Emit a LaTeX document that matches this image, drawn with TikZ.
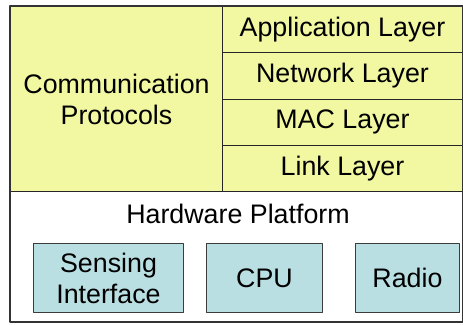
\documentclass[tikz,border=0pt]{standalone}
\usepackage{fontspec}
\setmainfont{Liberation Sans}
\definecolor{layeryellow}{RGB}{242,247,162}
\definecolor{hwblue}{RGB}{186,223,227}
\definecolor{edgegray}{RGB}{60,60,60}
\begin{document}
\begin{tikzpicture}[x=1pt,y=-1pt,line join=round,
	txt/.style={font=\fontsize{26.8}{31}\selectfont,align=center,inner sep=0pt},
	layer/.style={txt,draw=black!85,line width=1pt,fill=layeryellow,anchor=north west},
	hwpart/.style={txt,draw=edgegray,line width=1pt,fill=hwblue,anchor=north west,minimum height=69pt}]
	\useasboundingbox (0,0) rectangle (463,324);
	% hardware part
	\node[draw=edgegray,line width=1pt,fill=white,anchor=north west,minimum width=452pt,minimum height=130pt,inner sep=0pt] (hw) at (10,191) {};
	\node[txt] (hwname) at (238,214) {Hardware Platform};
	\node[hwpart,minimum width=150pt] (sense) at (33,243) {Sensing\\Interface};
	\node[hwpart,minimum width=116pt] (cpu) at (206,243) {CPU};
	\node[hwpart,minimum width=104pt] (radio) at (355,243) {Radio};
	% protocol stack
	\node[layer,minimum width=212pt,minimum height=185pt] (comm) at (10,6) {Communication\\Protocols};
	\foreach \i/\name/\lbl in {0/app/Application Layer,1/net/Network Layer,2/mac/MAC Layer,3/link/Link Layer}
		\node[layer,minimum width=240pt,minimum height=46.25pt] (\name) at (222,6+46.25*\i) {\lbl};
	% outer frame
	\draw[line width=1.8pt,draw=black!80] (comm.north west) rectangle (hw.south east);
\end{tikzpicture}
\end{document}
